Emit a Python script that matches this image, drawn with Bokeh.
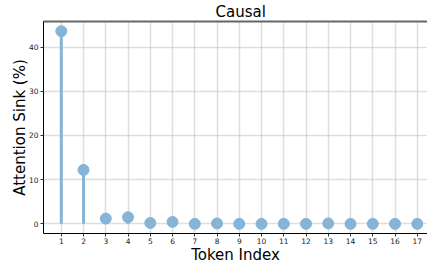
from bokeh.plotting import figure
from bokeh.models import Range1d, LinearAxis, FixedTicker, Title
from bokeh.embed import file_html
from bokeh.resources import INLINE

token_index = list(range(1, 18))
sink_pct = [43.6, 12.2, 1.2, 1.5, 0.2, 0.45, 0.0, 0.1, 0.0, 0.0, 0.0, 0.0, 0.1, 0.0, 0.0, 0.0, 0.0]
y_ticks = [0, 10, 20, 30, 40]

FONT = "DejaVu Sans"
COL = "#86b4d6"

p = figure(width=427, height=267, output_backend="svg", toolbar_location=None,
           x_range=Range1d(0.2, 17.46), y_range=Range1d(-2.18, 45.8),
           min_border_left=43, min_border_right=0, min_border_top=0, min_border_bottom=34,
           title=None)
p.outline_line_color = None
p.background_fill_color = "white"
p.border_fill_color = "white"

xa = p.below[0]
ya = p.left[0]

top = LinearAxis(axis_line_color="#666666", axis_line_width=2, major_tick_out=0, major_tick_in=0,
                 minor_tick_out=0, minor_tick_in=0, major_label_text_font_size="0px",
                 major_label_standoff=0, ticker=FixedTicker(ticks=[]))
p.add_layout(top, "above")

t = Title(text="Causal", align="left", offset=172, text_font=FONT, text_font_size="15px",
          text_font_style="normal", text_color="#000000", standoff=1)
p.add_layout(t, "above")

p.segment(x0=token_index, y0=[0] * len(token_index), x1=token_index, y1=sink_pct,
          line_color=COL, line_width=3)
p.scatter(token_index, sink_pct, size=11, fill_color=COL, line_color=COL)

xa.ticker = FixedTicker(ticks=token_index)
ya.ticker = FixedTicker(ticks=y_ticks)
for ax in (xa, ya):
    ax.axis_line_color = "black"
    ax.axis_line_width = 1
    ax.major_tick_out = 3
    ax.major_tick_in = 0
    ax.minor_tick_out = 0
    ax.minor_tick_in = 0
    ax.major_tick_line_color = "#333333"
    ax.major_label_text_font = FONT
    ax.major_label_text_font_size = "7.5px"
    ax.major_label_text_color = "#222222"
    ax.axis_label_text_font = FONT
    ax.axis_label_text_font_size = "15px"
    ax.axis_label_text_font_style = "normal"
    ax.axis_label_text_color = "#000000"
xa.axis_label = "Token Index"
ya.axis_label = "Attention Sink (%)"
xa.major_label_standoff = 1
xa.axis_label_standoff = -1
ya.major_label_standoff = 2
ya.axis_label_standoff = -3

for g in (p.xgrid[0], p.ygrid[0]):
    g.grid_line_color = "#bdbdbd"
    g.grid_line_dash = "1 1"
    g.grid_line_width = 1.5
p.xgrid[0].ticker = FixedTicker(ticks=token_index)
p.ygrid[0].ticker = FixedTicker(ticks=y_ticks)

open("out.html", "w").write(file_html(p, INLINE))
